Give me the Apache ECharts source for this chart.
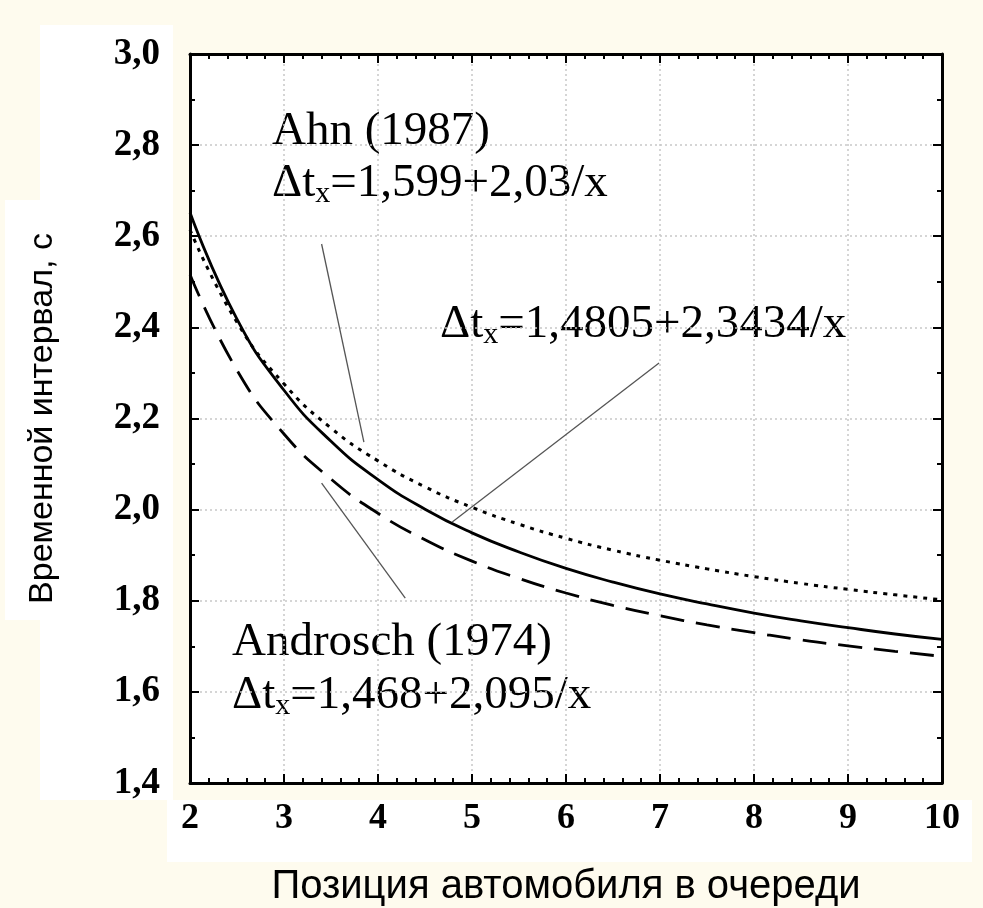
<!DOCTYPE html>
<html>
<head>
<meta charset="utf-8">
<script src="https://cdn.jsdelivr.net/npm/echarts@6/dist/echarts.min.js"></script>
<style>
  html, body { margin: 0; padding: 0; background: #fefbee; }
  #chart { width: 983px; height: 908px; }
</style>
</head>
<body>
<div id="chart"></div>
<script>
// позиция автомобиля в очереди
var positions = [2, 2.5, 3, 3.5, 4, 4.5, 5, 5.5, 6, 6.5, 7, 7.5, 8, 8.5, 9, 9.5, 10];
// сплошная: 1,4805+2,3434/x
var solidVals = [2.652, 2.418, 2.262, 2.150, 2.066, 2.001, 1.949, 1.907, 1.871, 1.841, 1.815, 1.793, 1.773, 1.756, 1.741, 1.727, 1.715];
// пунктир (Ahn 1987)
var ahnVals = [2.614, 2.411, 2.276, 2.179, 2.107, 2.050, 2.005, 1.968, 1.937, 1.911, 1.889, 1.870, 1.853, 1.838, 1.825, 1.813, 1.802];
// штрих (Androsch 1974)
var androschVals = [2.516, 2.306, 2.166, 2.067, 1.992, 1.934, 1.887, 1.849, 1.817, 1.790, 1.767, 1.747, 1.730, 1.714, 1.701, 1.689, 1.678];

// выноски (координаты в единицах осей)
var leaderAhn = [[3.40, 2.583], [3.85, 2.148]];
var leaderFit = [[6.99, 2.322], [4.79, 1.973]];
var leaderAndrosch = [[3.40, 2.058], [4.29, 1.806]];

function pairs(xs, ys) {
	return xs.map(function (x, i) { return [x, ys[i]]; });
}

var chart = echarts.init(document.getElementById('chart'));

var serif = '"Liberation Serif", "DejaVu Serif", serif';
var sans = '"Liberation Sans", Arial, sans-serif';

var axisCommon = {
	type: 'value',
	axisLine: { show: true, onZero: false, lineStyle: { color: '#000', width: 3 } },
	axisTick: { show: true, inside: true, length: 9, lineStyle: { color: '#000', width: 2 } },
	minorTick: { show: true, length: 5, lineStyle: { color: '#000', width: 2 } }
};

function leader(pts) {
	return [{ coord: pts[0] }, { coord: pts[1] }];
}

var rich = {
	n: { fontFamily: serif, fontSize: 47, color: '#000' },
	sub: { fontFamily: serif, fontSize: 30, color: '#000', padding: [22, 0, 0, 0] }
};

function note(left, top, parts) {
	return { type: 'text', left: left, top: top, style: { text: parts, rich: rich, font: '47px ' + serif, fill: '#000' } };
}

var option = {
	backgroundColor: '#fefbee',
	animation: false,
	grid: {
		left: 190, right: 41, top: 54, bottom: 125,
		outerBoundsMode: 'none', containLabel: false,
		show: true, backgroundColor: '#fff', borderWidth: 0
	},
	xAxis: [
		Object.assign({}, axisCommon, {
			min: 2, max: 10, interval: 1, position: 'bottom',
			minorTick: Object.assign({}, axisCommon.minorTick, { splitNumber: 5 }),
			axisLabel: { fontFamily: serif, fontSize: 36, fontWeight: 'bold', color: '#000', margin: 18 },
			splitLine: { show: true, lineStyle: { color: '#c8c8c8', type: [2, 3], width: 1.5 } },
			name: 'Позиция автомобиля в очереди',
			nameLocation: 'middle', nameGap: 84,
			nameTextStyle: { fontFamily: sans, fontSize: 40, color: '#000' }
		}),
		Object.assign({}, axisCommon, {
			min: 2, max: 10, interval: 1, position: 'top',
			minorTick: Object.assign({}, axisCommon.minorTick, { splitNumber: 5 }),
			axisLabel: { show: false }, splitLine: { show: false }
		})
	],
	yAxis: [
		Object.assign({}, axisCommon, {
			min: 1.4, max: 3.0, interval: 0.2, position: 'left',
			minorTick: Object.assign({}, axisCommon.minorTick, { splitNumber: 2 }),
			axisLabel: {
				fontFamily: serif, fontSize: 37, fontWeight: 'bold', color: '#000', margin: 30,
				formatter: function (v) { return v.toFixed(1).replace('.', ','); }
			},
			splitLine: { show: true, lineStyle: { color: '#c8c8c8', type: [2, 3], width: 1.5 } },
			name: 'Временной интервал, с',
			nameLocation: 'middle', nameGap: 130, nameRotate: 90,
			nameTextStyle: { fontFamily: sans, fontSize: 34, color: '#000' }
		}),
		Object.assign({}, axisCommon, {
			min: 1.4, max: 3.0, interval: 0.2, position: 'right',
			minorTick: Object.assign({}, axisCommon.minorTick, { splitNumber: 2 }),
			axisLabel: { show: false }, splitLine: { show: false }
		})
	],
	graphic: [
		{ type: 'rect', z: -10, shape: { x: 40, y: 25, width: 133, height: 775 }, style: { fill: '#fff' } },
		{ type: 'rect', z: -10, shape: { x: 167, y: 800, width: 805, height: 62 }, style: { fill: '#fff' } },
		{ type: 'rect', z: -10, shape: { x: 5, y: 200, width: 63, height: 420 }, style: { fill: '#fff' } },
		note(272, 108, '{n|Ahn (1987)}'),
		note(272, 160, '{n|Δt}{sub|x}{n|=1,599+2,03/x}'),
		note(440, 301, '{n|Δt}{sub|x}{n|=1,4805+2,3434/x}'),
		note(232, 619, '{n|Androsch (1974)}'),
		note(232, 672, '{n|Δt}{sub|x}{n|=1,468+2,095/x}')
	],
	series: [
		{
			name: 'fit', type: 'line', smooth: true, symbol: 'none',
			data: pairs(positions, solidVals),
			lineStyle: { color: '#000', width: 2.8, type: 'solid' },
			markLine: {
				silent: true, symbol: 'none', label: { show: false },
				lineStyle: { color: '#555', width: 1.3, type: 'solid' },
				data: [leader(leaderAhn), leader(leaderFit), leader(leaderAndrosch)]
			}
		},
		{
			name: 'Ahn', type: 'line', smooth: true, symbol: 'none',
			data: pairs(positions, ahnVals),
			lineStyle: { color: '#000', width: 3, type: [4, 6] }
		},
		{
			name: 'Androsch', type: 'line', smooth: true, symbol: 'none',
			data: pairs(positions, androschVals),
			lineStyle: { color: '#000', width: 2.8, type: [24, 12] }
		}
	]
};

chart.setOption(option);
</script>
</body>
</html>
